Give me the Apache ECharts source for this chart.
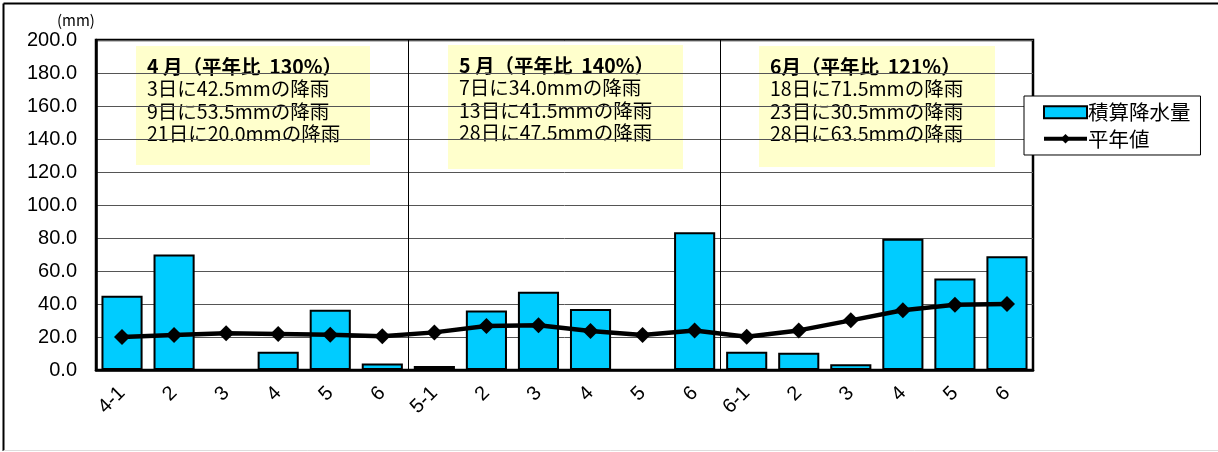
<!DOCTYPE html>
<html>
<head>
<meta charset="utf-8">
<script src="https://cdn.jsdelivr.net/npm/echarts@6/dist/echarts.min.js"></script>
<style>
  html, body { margin: 0; padding: 0; background: #fff; }
  #chart { width: 1218px; height: 452px; }
</style>
</head>
<body>
<div id="chart"></div>
<script>
// 半旬ごとのカテゴリ
const categories = ['4-1', '2', '3', '4', '5', '6', '5-1', '2', '3', '4', '5', '6', '6-1', '2', '3', '4', '5', '6'];
// 積算降水量 (mm)
const rainfall = [45, 70, 0, 11, 36.5, 4, 2.5, 36, 47.5, 37, 0, 83.5, 11, 10.5, 3.5, 79.5, 55.5, 69];
// 平年値 (mm)
const normal = [20, 21.2, 22.2, 21.8, 21.4, 20.4, 22.8, 26.7, 27.1, 23.6, 21.2, 24, 20.2, 24, 30.1, 36.2, 39.6, 40];
// 月ごとのメモ
const notes4 = ['4 月（平年比  130%）', '3日に42.5mmの降雨', '9日に53.5mmの降雨', '21日に20.0mmの降雨'];
const notes5 = ['5 月（平年比  140%）', '7日に34.0mmの降雨', '13日に41.5mmの降雨', '28日に47.5mmの降雨'];
const notes6 = ['6月（平年比  121%）', '18日に71.5mmの降雨', '23日に30.5mmの降雨', '28日に63.5mmの降雨'];

const jpFont = '"Noto Sans CJK JP", sans-serif';
const numFont = '"Liberation Sans", Arial, sans-serif';

// メモの箱を作る
function noteBox(lines, x, y, w, h) {
  return {
    type: 'group',
    left: x, top: y,
    children: [
      { type: 'rect', shape: { x: 0, y: 0, width: w, height: h }, style: { fill: '#FFFFCC' } },
      {
        type: 'text', x: 11, y: 9,
        style: {
          text: '{b|' + lines[0] + '}\n' + lines.slice(1).join('\n'),
          font: '19.5px ' + jpFont,
          fill: '#000',
          lineHeight: 22.5,
          rich: { b: { fontWeight: 'bold', fontSize: 19.5, fontFamily: jpFont, lineHeight: 22.5 } }
        }
      }
    ]
  };
}

const myChart = echarts.init(document.getElementById('chart'));
myChart.setOption({
  animation: false,
  backgroundColor: '#fff',
  grid: { left: 96, top: 40, width: 937, height: 330, show: true, borderColor: '#000', borderWidth: 2.5, backgroundColor: 'transparent' },
  legend: {
    left: 1024, top: 96, width: 192,
    orient: 'vertical',
    backgroundColor: '#fff',
    borderColor: '#000', borderWidth: 1,
    padding: [6, 10, 6, 18],
    itemGap: 6,
    itemWidth: 43, itemHeight: 12,
    lineStyle: { width: 4 },
    textStyle: { fontSize: 20.5, fontFamily: jpFont, color: '#000', padding: [0, 0, 0, -4] },
    data: [
      { name: '積算降水量', icon: 'rect', itemStyle: { borderColor: '#000', borderWidth: 2 } },
      { name: '平年値' }
    ]
  },
  xAxis: {
    type: 'category',
    data: categories,
    axisLine: { lineStyle: { color: '#000', width: 2.5 } },
    axisTick: { show: false },
    axisLabel: { rotate: 45, margin: 20, fontSize: 20, fontFamily: numFont, color: '#000', interval: 0 },
    splitLine: { show: true, interval: (i) => i === 6 || i === 12, lineStyle: { color: '#000', width: 1 } }
  },
  yAxis: {
    type: 'value',
    min: 0, max: 200, interval: 20,
    axisLine: { show: true, lineStyle: { color: '#000', width: 2.5 } },
    axisTick: { show: false },
    axisLabel: { margin: 19, fontSize: 20, fontFamily: numFont, color: '#000', formatter: (v) => v.toFixed(1) },
    splitLine: { lineStyle: { color: '#555', width: 1 } }
  },
  series: [
    {
      name: '積算降水量',
      type: 'bar',
      data: rainfall,
      barCategoryGap: '21%',
      itemStyle: { color: '#00CCFF', borderColor: '#000', borderWidth: 2 }
    },
    {
      name: '平年値',
      type: 'line',
      data: normal,
      symbol: 'diamond',
      symbolSize: 16,
      lineStyle: { color: '#000', width: 4.5 },
      itemStyle: { color: '#000' },
      z: 5
    }
  ],
  graphic: [
    { type: 'line', shape: { x1: 3.5, y1: 3.5, x2: 1218, y2: 3.5 }, style: { stroke: '#000', lineWidth: 2 } },
    { type: 'line', shape: { x1: 3.5, y1: 3.5, x2: 3.5, y2: 451 }, style: { stroke: '#000', lineWidth: 2 } },
    { type: 'line', shape: { x1: 3.5, y1: 450.5, x2: 1218, y2: 450.5 }, style: { stroke: '#ddd', lineWidth: 1 } },
    { type: 'text', left: 57, top: 13, style: { text: '(mm)', font: '15px ' + jpFont, fill: '#000' } },
    noteBox(notes4, 136, 46, 234, 119),
    noteBox(notes5, 448, 45, 235, 124),
    noteBox(notes6, 759, 46, 236, 121)
  ]
});
</script>
</body>
</html>
